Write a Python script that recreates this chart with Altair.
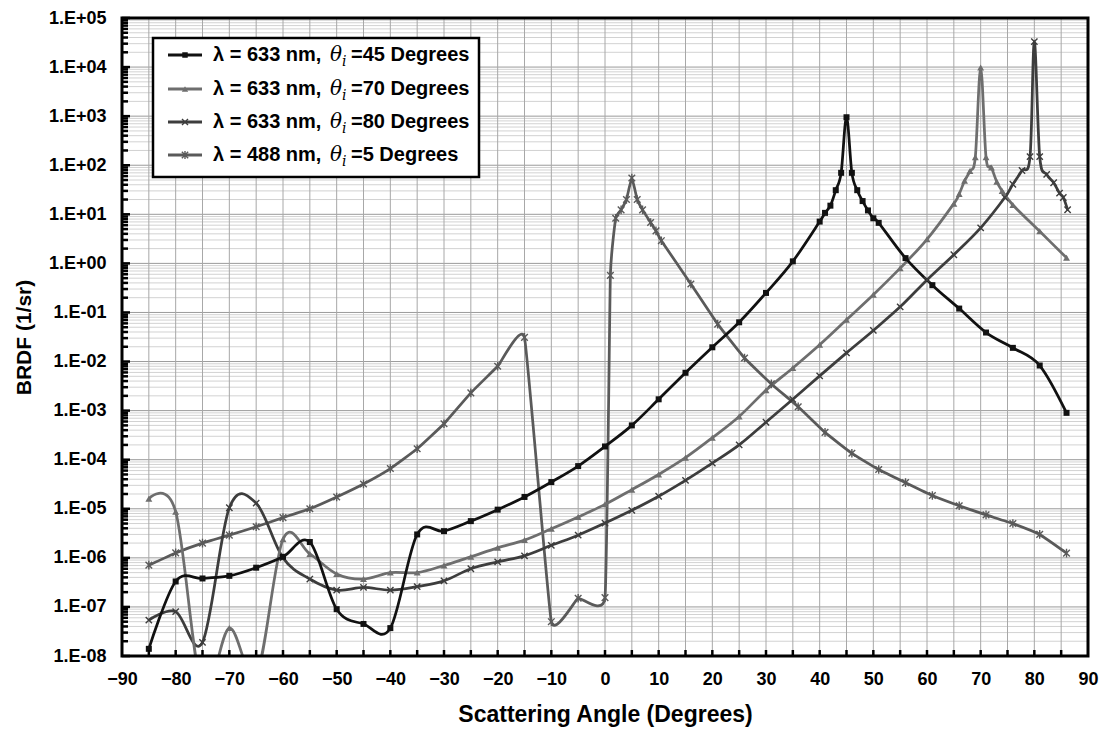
import altair as alt
import pandas as pd

# ---------------- data ----------------
s1_x = [-85, -80, -75, -70, -65, -60, -55, -50, -45, -40, -35, -30, -25, -20, -15, -10, -5, 0, 5, 10, 15, 20,
        25, 30, 35, 40, 41, 42, 43, 44, 45, 46, 47, 48, 49, 50, 51, 56, 61, 66, 71, 76, 81, 86]
s1_y = [1.4e-8, 3.3e-7, 3.8e-7, 4.3e-7, 6.3e-7, 1.05e-6, 2.1e-6, 9e-8, 4.5e-8, 3.7e-8, 3.0e-6, 3.5e-6, 5.6e-6,
        9.6e-6, 1.74e-5, 3.5e-5, 7.4e-5, 1.86e-4, 5e-4, 1.7e-3, 5.9e-3, 0.0195,
        0.063, 0.25, 1.1, 7.1, 10.7, 15, 31, 70, 950, 70, 31, 18.6, 12, 8.3, 6.7, 1.28, 0.36, 0.12, 0.039, 0.019,
        0.0083, 9e-4]

s2_x = [-85, -80, -75, -70, -65, -60, -55, -50, -45, -40, -35, -30, -25, -20, -15, -10, -5, 0, 5, 10, 15, 20,
        25, 30, 35, 40, 45, 50, 55, 60, 65, 66, 67, 68, 69, 70, 71, 72, 73, 74, 76, 81, 86]
s2_y = [1.6e-5, 8.7e-6, 2e-9, 3.7e-8, 4e-9, 2.4e-6, 1.2e-6, 4.7e-7, 3.7e-7, 5e-7, 5e-7, 7e-7, 1.05e-6, 1.6e-6,
        2.3e-6, 3.9e-6, 6.8e-6, 1.23e-5, 2.45e-5, 5e-5, 1.1e-4, 2.8e-4,
        7.6e-4, 2.6e-3, 7.4e-3, 0.022, 0.071, 0.23, 0.8, 3.1, 16.5, 26, 48, 76, 145, 9800, 145, 90, 46, 30, 15.5,
        4.5, 1.3]

s3_x = [-85, -80, -75, -70, -65, -60, -55, -50, -45, -40, -35, -30, -25, -20, -15, -10, -5, 0, 5, 10, 15, 20,
        25, 30, 35, 40, 45, 50, 55, 60, 65, 70, 74.5, 76, 77.7, 79.2, 80, 81, 82.3, 83.6, 84.7, 85.4, 86.2]
s3_y = [5.4e-8, 8e-8, 1.9e-8, 1.05e-5, 1.3e-5, 1.0e-6, 3.7e-7, 2.2e-7, 2.5e-7, 2.2e-7, 2.6e-7, 3.4e-7, 6e-7,
        8.3e-7, 1.1e-6, 1.8e-6, 2.9e-6, 5.1e-6, 9.3e-6, 1.8e-5, 3.8e-5, 8.5e-5,
        2.0e-4, 5.8e-4, 1.7e-3, 5.1e-3, 0.015, 0.043, 0.13, 0.46, 1.5, 5.3, 22, 41, 78, 150, 33000, 150, 65, 44,
        27, 22, 12.4]

s4_x = [-85, -80, -75, -70, -65, -60, -55, -50, -45, -40, -35, -30, -25, -20, -15, -10, -5, 0, 1, 2, 3, 4, 5,
        6, 7, 8.5, 9.5, 10.5, 16, 21, 26, 31, 36, 41, 46, 51, 56, 61, 66, 71, 76, 81, 86]
s4_y = [7.1e-7, 1.26e-6, 2.0e-6, 2.9e-6, 4.3e-6, 6.6e-6, 1.0e-5, 1.74e-5, 3.2e-5, 6.6e-5, 1.67e-4, 5.4e-4,
        2.3e-3, 8e-3, 0.031, 5e-8, 1.5e-7, 1.55e-7, 0.57, 8.3, 12.3, 20, 55,
        20, 12.3, 6.8, 4.6, 2.9, 0.38, 0.058, 0.0118, 3.5e-3, 1.2e-3, 3.6e-4, 1.35e-4, 6.3e-5, 3.4e-5, 1.86e-5,
        1.15e-5, 7.5e-6, 5e-6, 3e-6, 1.25e-6]

series_keys = ["s45", "s70", "s80", "s5"]
legend_prefix = ["λ = 633 nm, ", "λ = 633 nm, ", "λ = 633 nm, ", "λ = 488 nm, "]
legend_suffix = ["=45 Degrees", "=70 Degrees", "=80 Degrees", "=5 Degrees"]
series_colors = ["#111111", "#6e6e6e", "#3d3d3d", "#5a5a5a"]
series_tension = {"s45": 0.0, "s70": 0.0, "s80": 0.0, "s5": 0.65}

x_ticks = list(range(-90, 91, 10))
x_grid = list(range(-85, 90, 5))
y_major = [10.0 ** k for k in range(-8, 6)]
y_minor = [m * 10.0 ** k for k in range(-8, 5) for m in range(2, 10)]

# ---------------- layout ----------------
W, H = 966, 638
FONT = "Liberation Sans"

rows = []
for key, xs, ys in zip(series_keys, [s1_x, s2_x, s3_x, s4_x], [s1_y, s2_y, s3_y, s4_y]):
    for a, v in zip(xs, ys):
        rows.append({"series": key, "angle": a, "brdf": v})
df = pd.DataFrame(rows)

XS = alt.Scale(domain=[-90, 90], nice=False, zero=False)
YS = alt.Scale(type="log", domain=[1e-8, 1e5], nice=False)
XAX = alt.Axis(values=x_ticks, title="Scattering Angle (Degrees)", grid=False, ticks=False, domain=False,
               labelFont=FONT, labelFontWeight="bold", labelFontSize=18, labelColor="black",
               labelPadding=14, titleFont=FONT, titleFontWeight="bold", titleFontSize=23,
               titleColor="black", titlePadding=15, labelFlush=False)
YAX = alt.Axis(values=y_major, title="BRDF (1/sr)", grid=False, ticks=False, domain=False,
               labelFont=FONT, labelFontWeight="bold", labelFontSize=18, labelColor="black",
               labelPadding=16, titleFont=FONT, titleFontWeight="bold", titleFontSize=21,
               titleColor="black", titlePadding=14, labelFlush=False,
               labelExpr="'1.E' + (datum.value >= 1 ? '+' : '-') + "
                         "(abs(round(log(datum.value)/LN10)) < 10 ? '0' : '') + "
                         "abs(round(log(datum.value)/LN10))")


def X(field):
    return alt.X(f"{field}:Q", scale=XS, axis=XAX)


def Y(field):
    return alt.Y(f"{field}:Q", scale=YS, axis=YAX)


one = pd.DataFrame({"a": [0]})

layers = []
# grids
layers.append(alt.Chart(pd.DataFrame({"v": y_minor})).mark_rule(color="#d2d2d2", strokeWidth=1).encode(y=Y("v")))
layers.append(alt.Chart(pd.DataFrame({"v": y_major})).mark_rule(color="#9a9a9a", strokeWidth=1).encode(y=Y("v")))
layers.append(alt.Chart(pd.DataFrame({"g": x_grid})).mark_rule(color="#a8a8a8", strokeWidth=1).encode(x=X("g")))

color = alt.Color("series:N", scale=alt.Scale(domain=series_keys, range=series_colors), legend=None)

# lines
for key in reversed(series_keys):
    layers.append(
        alt.Chart(df[df.series == key]).mark_line(interpolate="cardinal", tension=series_tension[key],
                                                  clip=True, strokeWidth=2.75)
        .encode(x=X("angle"), y=Y("brdf"), color=color)
    )

XPATH = "M-1,-1L1,1M-1,1L1,-1"
STAR = "M-1,-1L1,1M-1,1L1,-1M0,-1.3L0,1.3"
marker_specs = {
    "s45": dict(shape="square", filled=True, size=36),
    "s70": dict(shape="triangle-up", filled=True, size=48),
    "s80": dict(shape=XPATH, filled=False, size=40, strokeWidth=1.4),
    "s5": dict(shape=STAR, filled=False, size=44, strokeWidth=1.4),
}
for key in reversed(series_keys):
    spec = marker_specs[key]
    layers.append(
        alt.Chart(df[df.series == key]).mark_point(clip=True, opacity=1, **spec)
        .encode(x=X("angle"), y=Y("brdf"), color=color)
    )

# inside ticks
layers.append(alt.Chart(pd.DataFrame({"t": x_grid})).mark_rule(color="black", strokeWidth=2.5)
              .encode(x=X("t"), y=alt.value(H), y2=alt.value(H - 6)))
layers.append(alt.Chart(pd.DataFrame({"v": y_minor})).mark_rule(color="black", strokeWidth=2.5)
              .encode(y=Y("v"), x=alt.value(0), x2=alt.value(6)))
layers.append(alt.Chart(pd.DataFrame({"v": y_major})).mark_rule(color="black", strokeWidth=2.5)
              .encode(y=Y("v"), x=alt.value(0), x2=alt.value(8)))

# legend
LX0, LX1, LY0, LY1 = 31, 357, 20, 159
layers.append(alt.Chart(one).mark_rect(fill="white", stroke="black", strokeWidth=2.5)
              .encode(x=alt.value(LX0), x2=alt.value(LX1), y=alt.value(LY0), y2=alt.value(LY1)))
row_y = [37, 71, 104, 137]
leg_markers = {
    "s45": dict(shape="square", filled=True, size=30),
    "s70": dict(shape="triangle-up", filled=True, size=40),
    "s80": dict(shape=XPATH, filled=False, size=36, strokeWidth=1.4),
    "s5": dict(shape=STAR, filled=False, size=40, strokeWidth=1.4),
}
for key, yy, col, pre, suf in zip(series_keys, row_y, series_colors, legend_prefix, legend_suffix):
    layers.append(alt.Chart(one).mark_rule(color=col, strokeWidth=3)
                  .encode(x=alt.value(46), x2=alt.value(80), y=alt.value(yy)))
    layers.append(alt.Chart(one).mark_point(color=col, opacity=1, **leg_markers[key])
                  .encode(x=alt.value(63), y=alt.value(yy)))
    layers.append(alt.Chart(one).mark_text(text=pre, align="left", baseline="middle", font=FONT,
                                           fontWeight="bold", fontSize=20, color="black")
                  .encode(x=alt.value(91), y=alt.value(yy)))
    layers.append(alt.Chart(one).mark_text(text="θ", align="left", baseline="middle", font="DejaVu Serif",
                                           fontStyle="italic", fontSize=20, color="black")
                  .encode(x=alt.value(208), y=alt.value(yy)))
    layers.append(alt.Chart(one).mark_text(text="i", align="left", baseline="middle", font="DejaVu Serif",
                                           fontStyle="italic", fontSize=14, color="black")
                  .encode(x=alt.value(220), y=alt.value(yy + 7)))
    layers.append(alt.Chart(one).mark_text(text=suf, align="left", baseline="middle", font=FONT,
                                           fontWeight="bold", fontSize=20, color="black")
                  .encode(x=alt.value(229), y=alt.value(yy)))

# frame
layers.append(alt.Chart(one).mark_rect(filled=False, stroke="black", strokeWidth=3)
              .encode(x=alt.value(0), x2=alt.value(W), y=alt.value(0), y2=alt.value(H)))

chart = alt.layer(*layers).properties(
    width=W, height=H,
    autosize=alt.AutoSizeParams(type="none"),
    padding={"left": 114, "top": 10, "right": 12, "bottom": 71},
    background="white",
).configure_view(strokeWidth=0)

chart.save("out.html", embed_options={"renderer": "svg", "actions": False})
